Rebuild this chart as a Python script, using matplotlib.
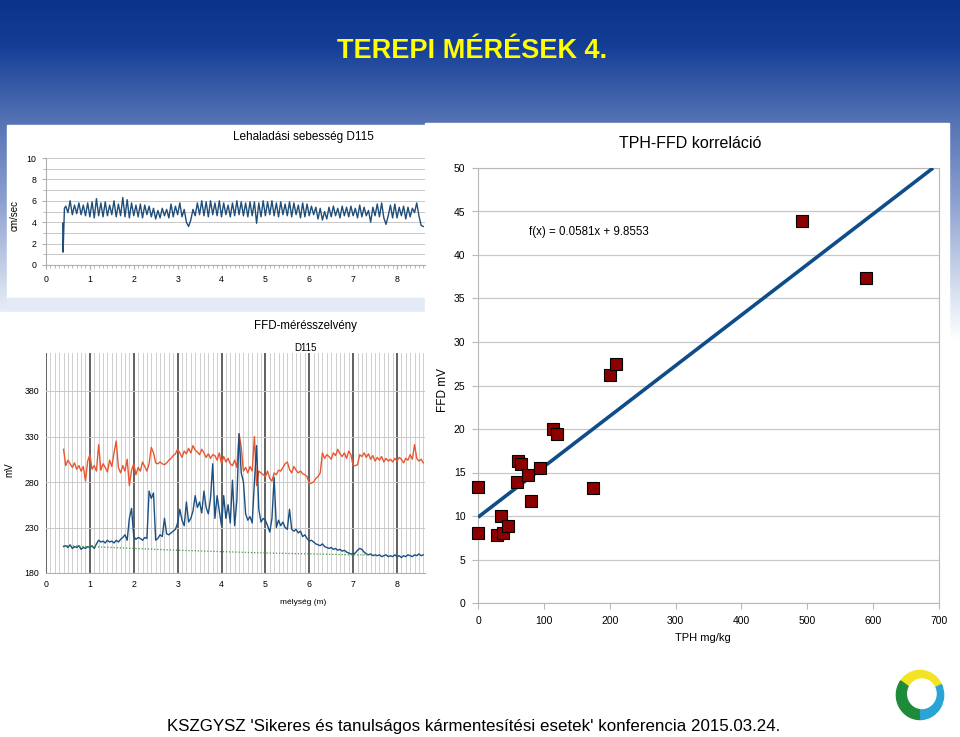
import numpy as np
import matplotlib
matplotlib.use('Agg')
import matplotlib.pyplot as plt
from matplotlib.patches import Rectangle, Wedge
from matplotlib.ticker import MultipleLocator

# ---------------- data ----------------
# Lehaladási sebesség (cm/sec) vs depth (m)
speed_start_depth = [0.38, 0.39, 0.42]
speed_start_values = [3.9, 1.2, 5.3]
speed_step_start = 0.45
speed_step = 0.05
speed_values = [
    5.5, 4.9, 6.0, 4.7, 5.6, 4.8, 5.8, 4.7, 5.6, 4.6, 5.8,
    4.5, 5.9, 4.4, 6.2, 4.6, 5.8, 4.5, 5.9, 4.6, 5.6, 4.7, 6.0, 4.5, 5.7, 4.6, 6.3, 4.5, 6.1, 4.4, 5.8,
    4.6, 5.6, 4.5, 5.7, 4.4, 5.6, 4.7, 5.5, 4.5, 5.3, 4.3, 5.1, 4.4, 5.3, 4.6, 5.2, 4.4, 5.7, 4.5, 5.5,
    4.7, 5.8, 4.5, 5.2, 4.0, 3.6, 4.2, 5.2, 4.6, 5.8, 4.7, 6.0, 4.6, 5.9, 4.5, 6.0, 4.7, 5.8, 4.6, 6.0,
    4.5, 5.8, 4.7, 5.6, 4.5, 5.8, 4.6, 6.0, 4.7, 5.9, 4.6, 5.8, 4.5, 5.9, 4.6, 5.9, 3.9, 5.8, 4.5, 6.0,
    4.6, 5.9, 4.7, 6.0, 4.6, 5.8, 4.5, 5.9, 4.7, 5.7, 4.6, 5.9, 4.5, 5.8, 4.7, 5.6, 4.4, 5.8, 4.5, 5.7,
    4.6, 5.5, 4.7, 5.4, 4.3, 5.3, 4.2, 5.0, 4.3, 5.4, 4.5, 5.5, 4.6, 5.3, 4.4, 5.5, 4.6, 5.4, 4.5, 5.5,
    4.6, 5.3, 4.4, 5.6, 4.5, 5.4, 4.6, 5.1, 4.0, 5.4, 4.6, 5.7, 4.5, 5.8, 4.4, 3.8, 4.6, 5.6, 4.4, 5.7,
    4.4, 5.4, 4.6, 5.5, 4.3, 5.4, 4.5, 5.3, 4.9, 5.8, 4.6, 3.7, 3.6,
]

# FFD-mérésszelvény (mV) vs depth (m)
ffd_step_start = 0.40
ffd_step = 0.05
ffd_orange = [
    316, 298, 304, 300, 296, 301, 294, 298, 292, 297, 281, 303,
    310, 294, 298, 292, 321, 293, 300, 296, 291, 304, 297, 312, 325, 296, 290, 298, 292, 305, 276, 293,
    300, 288, 296, 292, 302, 297, 292, 300, 318, 312, 301, 300, 302, 300, 299, 301, 304, 306, 309, 311,
    316, 312, 307, 314, 311, 317, 312, 320, 315, 313, 310, 316, 312, 307, 311, 306, 310, 309, 304, 312,
    300, 308, 302, 306, 300, 298, 304, 296, 333, 318, 292, 296, 290, 297, 292, 330, 276, 292, 290, 288,
    286, 292, 284, 281, 290, 288, 293, 292, 296, 300, 302, 294, 290, 297, 293, 290, 292, 289, 288, 286,
    278, 279, 280, 284, 286, 290, 312, 306, 310, 308, 305, 312, 309, 316, 311, 308, 312, 306, 314, 310,
    298, 298, 299, 310, 308, 312, 307, 311, 305, 309, 303, 307, 304, 308, 302, 306, 303, 305, 302, 306,
    303, 307, 305, 301, 306, 304, 310, 305, 321, 306, 303, 305, 301,
]
ffd_blue = [
    209, 210, 208, 211, 207, 209, 208, 210, 206, 208, 207, 209,
    208, 210, 207, 212, 216, 214, 215, 213, 216, 214, 215, 213, 216, 214, 217, 219, 222, 216, 240, 251,
    220, 217, 219, 218, 216, 219, 218, 270, 262, 268, 216, 218, 222, 220, 240, 223, 222, 224, 226, 228,
    235, 250, 238, 232, 258, 236, 240, 248, 265, 252, 258, 246, 270, 252, 245, 262, 300, 240, 265, 248,
    232, 265, 240, 255, 235, 282, 232, 260, 333, 290, 280, 245, 238, 242, 235, 280, 320, 250, 236, 240,
    238, 232, 225, 240, 285, 230, 238, 232, 236, 230, 228, 250, 228, 226, 228, 224, 226, 220, 222, 218,
    215, 216, 214, 212, 211, 210, 212, 209, 208, 207, 208, 206, 207, 205, 206, 204, 205, 203, 202, 201,
    201, 202, 205, 207, 206, 203, 201, 200, 201, 199, 200, 199, 200, 198, 199, 200, 198, 199, 198, 200,
    198, 199, 197, 199, 198, 200, 199, 198, 200, 199, 201, 199, 200,
]
baseline_depth = [0.4, 1.0, 2.0, 3.0, 4.0, 5.0, 6.0, 7.0, 7.4]
baseline_mv = [210, 209, 207, 205, 203.5, 202, 201, 200, 200]

# TPH-FFD korreláció
tph = [0, 0, 29.6, 37.8, 34.7, 46, 60.7, 64.8, 59.6, 75.2, 81, 93.9, 114, 120, 175, 200, 210, 492, 589]
ffd = [13.3, 8.0, 7.8, 8.1, 10.0, 8.9, 16.3, 16.0, 13.9, 14.7, 11.7, 15.5, 20.0, 19.4, 13.2, 26.2, 27.5, 43.9, 37.4]
trend_slope = 0.0581
trend_intercept = 9.8553

# ---------------- style ----------------
REG = ['Liberation Sans', 'DejaVu Sans']
plt.rcParams['font.family'] = REG

W, H = 960, 737
fig = plt.figure(figsize=(W / 100, H / 100), dpi=100)

def fax(x0, y0, x1, y1):
    return [x0 / W, 1 - y1 / H, (x1 - x0) / W, (y1 - y0) / H]

# background
bg = fig.add_axes([0, 0, 1, 1])
bg.set_xlim(0, W)
bg.set_ylim(H, 0)
bg.axis('off')
ys = np.arange(H)
stops_y = [0, 45, 120, 200, 290, 340, H]
stops_c = np.array([[10, 51, 140], [20, 62, 150], [84, 114, 180], [140, 160, 208],
                    [215, 224, 240], [255, 255, 255], [255, 255, 255]]) / 255.0
grad = np.stack([np.interp(ys, stops_y, stops_c[:, k]) for k in range(3)], axis=1)
bg.imshow(grad[:, None, :], extent=(0, W, H, 0), aspect='auto', zorder=0)

bg.add_patch(Rectangle((7, 125), 418, 173, color='white', zorder=1))
bg.add_patch(Rectangle((7, 298), 418, 14, color='#e4eaf5', zorder=1))
bg.add_patch(Rectangle((0, 312), 425, 310, color='white', zorder=1))
bg.add_patch(Rectangle((425, 123), 524, 614, color='white', zorder=1))

bg.text(472, 51, 'TEREPI MÉRÉSEK 4.', color='#ffff00', fontsize=19.5, fontweight='bold',
        ha='center', va='center', zorder=3)
bg.text(474, 727, "KSZGYSZ 'Sikeres és tanulságos kármentesítési esetek' konferencia 2015.03.24.",
        color='black', fontsize=12.2, ha='center', va='center', zorder=3)

bg.text(303, 137, 'Lehaladási sebesség D115', fontsize=8.5, ha='center', va='center', zorder=3)
bg.text(15, 215, 'cm/sec', fontsize=7, rotation=90, ha='center', va='center', zorder=3)
bg.text(305, 326, 'FFD-mérésszelvény', fontsize=8.3, ha='center', va='center', zorder=3)
bg.text(305, 348, 'D115', fontsize=7, ha='center', va='center', zorder=3)
bg.text(9, 470, 'mV', fontsize=7, rotation=90, ha='center', va='center', zorder=3)
bg.text(303, 602, 'mélység (m)', fontsize=6, ha='center', va='center', zorder=3)
bg.text(690, 143, 'TPH-FFD korreláció', fontsize=11.5, ha='center', va='center', zorder=3)
bg.text(443, 390, 'FFD mV', fontsize=8.5, rotation=90, ha='center', va='center', zorder=3)
bg.text(703, 638, 'TPH mg/kg', fontsize=8, ha='center', va='center', zorder=3)

GRID = '#c8c8c8'

# ---- top-left: speed ----
ax1 = fig.add_axes(fax(46, 158, 425, 265))
ax1.set_facecolor('none')
d_speed = np.concatenate([speed_start_depth,
                          speed_step_start + speed_step * np.arange(len(speed_values))])
v_speed = np.concatenate([speed_start_values, speed_values])
ax1.plot(d_speed, v_speed, color='#1f4e79', lw=1.0)
ax1.set_xlim(0, 8 * 379 / 351)
ax1.set_ylim(0, 10)
ax1.set_yticks([0, 2, 4, 6, 8, 10])
ax1.yaxis.set_minor_locator(MultipleLocator(1))
ax1.set_xticks(range(9))
ax1.xaxis.set_minor_locator(MultipleLocator(0.1))
ax1.grid(True, which='both', axis='y', color=GRID, lw=0.7)
for s in ['top', 'right']:
    ax1.spines[s].set_visible(False)
for s in ['left', 'bottom']:
    ax1.spines[s].set_color('#b0b0b0')
ax1.tick_params(axis='both', which='major', labelsize=6.3, length=3, color='#b0b0b0', pad=4)
ax1.tick_params(axis='both', which='minor', length=2, color='#b0b0b0')

# ---- bottom-left: FFD profile ----
ax2 = fig.add_axes(fax(46, 353, 425, 573))
ax2.set_facecolor('none')
d_ffd = ffd_step_start + ffd_step * np.arange(len(ffd_orange))
ax2.plot(d_ffd, ffd_orange, color='#e8572f', lw=1.0, zorder=3)
ax2.plot(d_ffd, ffd_blue, color='#1c4f82', lw=1.0, zorder=3)
ax2.plot(baseline_depth, baseline_mv, color='#3c9a3c', lw=0.9, ls=(0, (1, 1.5)), zorder=4)
ax2.set_xlim(0, 8 * 379 / 351)
ax2.set_ylim(180, 180 + 220 / 45.5 * 50)
ax2.set_yticks([180, 230, 280, 330, 380])
ax2.set_xticks(range(9))
ax2.xaxis.set_minor_locator(MultipleLocator(0.1))
ax2.grid(True, which='minor', axis='x', color=GRID, lw=0.6, zorder=0)
ax2.grid(True, which='major', axis='x', color='#555555', lw=1.3, zorder=0)
ax2.grid(True, which='major', axis='y', color=GRID, lw=0.7, zorder=0)
for s in ['top', 'right', 'left']:
    ax2.spines[s].set_visible(False)
ax2.spines['bottom'].set_color('#b0b0b0')
ax2.tick_params(axis='both', which='both', length=0, labelsize=6.3, pad=5)

# ---- right: scatter ----
ax3 = fig.add_axes(fax(478, 168, 939, 603))
ax3.set_facecolor('none')
ax3.set_xlim(0, 700)
ax3.set_ylim(0, 50)
ax3.set_xticks(range(0, 701, 100))
ax3.set_yticks(range(0, 51, 5))
ax3.grid(True, axis='y', color=GRID, lw=0.9)
for s in ax3.spines.values():
    s.set_color('#b8b8b8')
ax3.tick_params(axis='both', labelsize=7.5, length=4, color='#b8b8b8', pad=5)
x_end = (50 - trend_intercept) / trend_slope
xt = np.array([0, x_end])
ax3.plot(xt, trend_slope * xt + trend_intercept, color='#0f4d8a', lw=2.6, zorder=3,
         solid_capstyle='butt')
ax3.plot(tph, ffd, ls='none', marker='s', ms=8, mfc='#8b0000', mec='black', mew=0.8, zorder=4,
         clip_on=False)
ax3.text(77, 42.6, 'f(x) = 0.0581x + 9.8553', fontsize=8.3, ha='left', va='center')

# ---- logo ----
axl = fig.add_axes(fax(894, 668, 946, 722))
axl.set_xlim(-1.1, 1.1)
axl.set_ylim(-1.1, 1.1)
axl.axis('off')
axl.add_patch(Wedge((0, 0), 1.0, 20, 150, width=0.38, color='#f2e424'))
axl.add_patch(Wedge((0, 0), 1.0, 145, 272, width=0.5, color='#1e8b3a'))
axl.add_patch(Wedge((0, 0), 1.0, 272, 25, width=0.45, color='#2aa3d6'))
axl.add_patch(Wedge((0.08, 0.05), 0.6, 0, 360, color='white'))

fig.savefig('out.png', dpi=100)
